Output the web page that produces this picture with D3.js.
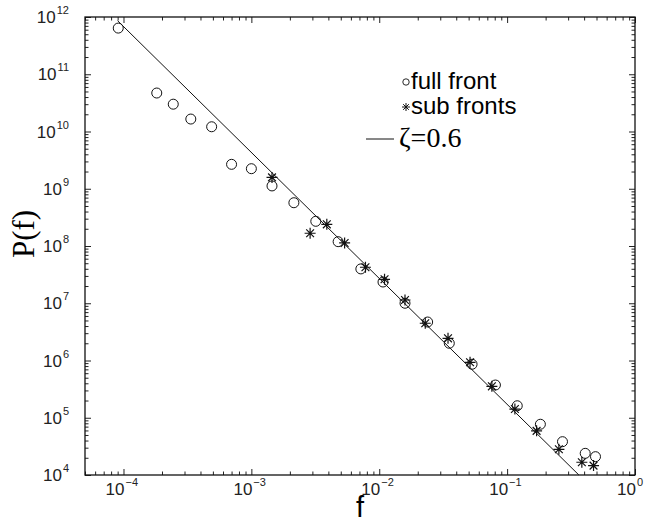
<!DOCTYPE html>
<html>
<head>
<meta charset="utf-8">
<script src="https://cdn.jsdelivr.net/npm/d3@7"></script>
<style>
  body { margin: 0; background: #fff; }
  svg { display: block; }
</style>
</head>
<body>
<div id="chart"></div>
<script>
// full front (circles)
const fullF = [9.1e-5, 1.82e-4, 2.45e-4, 3.36e-4, 4.89e-4, 7.0e-4, 1.0e-3, 1.45e-3, 2.15e-3, 3.19e-3,
  4.77e-3, 7.18e-3, 1.07e-2, 1.59e-2, 2.39e-2, 3.53e-2, 5.32e-2, 8.1e-2, 0.12, 0.182, 0.271, 0.408, 0.491];
const fullP = [6.4e11, 4.7e10, 3.0e10, 1.65e10, 1.21e10, 2.67e9, 2.24e9, 1.12e9, 5.7e8, 2.7e8,
  1.19e8, 3.98e7, 2.35e7, 1.0e7, 4.7e6, 2.0e6, 8.6e5, 3.73e5, 1.62e5, 7.7e4, 3.82e4, 2.39e4, 2.09e4];
// sub fronts (stars)
const subF = [1.45e-3, 2.88e-3, 3.89e-3, 5.36e-3, 7.8e-3, 1.1e-2, 1.59e-2, 2.29e-2, 3.45e-2, 5.13e-2,
  7.6e-2, 0.115, 0.17, 0.254, 0.384, 0.474];
const subP = [1.58e9, 1.67e8, 2.39e8, 1.13e8, 4.25e7, 2.62e7, 1.14e7, 4.47e6, 2.44e6, 9.3e5,
  3.54e5, 1.42e5, 5.9e4, 2.81e4, 1.67e4, 1.46e4];
// fitted line zeta = 0.6 (end points)
const lineF = [9e-5, 0.364];
const lineP = [8.6e11, 1e4];

const xExp = [-4, -3, -2, -1, 0];
const yExp = [4, 5, 6, 7, 8, 9, 10, 11, 12];

const W = 648, H = 524;
const m = { top: 17, right: 13, bottom: 49, left: 85 };

const svg = d3.select('#chart').append('svg').attr('width', W).attr('height', H);

const x = d3.scaleLog().domain([5e-5, 1]).range([m.left, W - m.right]);
const y = d3.scaleLog().domain([1e4, 1e12]).range([H - m.bottom, m.top]);

const xMajor = xExp.map(e => Math.pow(10, e));
const yMajor = yExp.map(e => Math.pow(10, e));
const minorOf = (lo, hi) => {
  const out = [];
  for (let e = Math.floor(Math.log10(lo)); e < Math.log10(hi); e++) {
    for (let k = 2; k <= 9; k++) {
      const v = k * Math.pow(10, e);
      if (v >= lo && v <= hi) out.push(v);
    }
  }
  return out;
};
const xMinor = minorOf(5e-5, 1);
const yMinor = minorOf(1e4, 1e12);

// axes: ticks pointing inward on all four sides
function drawAxis(axis, tr, vals, size) {
  const g = svg.append('g').attr('transform', tr)
    .call(axis.tickValues(vals).tickSize(size).tickFormat(''));
  g.select('.domain').remove();
  g.selectAll('line').attr('stroke', '#222').attr('stroke-width', 1);
}
const bottomY = H - m.bottom, rightX = W - m.right;
drawAxis(d3.axisBottom(x), `translate(0,${bottomY})`, xMajor, -6);
drawAxis(d3.axisBottom(x), `translate(0,${bottomY})`, xMinor, -3.5);
drawAxis(d3.axisTop(x), `translate(0,${m.top})`, xMajor, -6);
drawAxis(d3.axisTop(x), `translate(0,${m.top})`, xMinor, -3.5);
drawAxis(d3.axisLeft(y), `translate(${m.left},0)`, yMajor, -6);
drawAxis(d3.axisLeft(y), `translate(${m.left},0)`, yMinor, -3.5);
drawAxis(d3.axisRight(y), `translate(${rightX},0)`, yMajor, -6);
drawAxis(d3.axisRight(y), `translate(${rightX},0)`, yMinor, -3.5);

svg.append('rect')
  .attr('x', m.left).attr('y', m.top)
  .attr('width', rightX - m.left).attr('height', bottomY - m.top)
  .attr('fill', 'none').attr('stroke', '#111').attr('stroke-width', 1.3);

// tick labels as 10^n
const labFont = '"Liberation Sans", Arial, sans-serif';
const expText = e => (e < 0 ? '\u2212' + (-e) : String(e));

xExp.forEach(e => {
  const tx = x(Math.pow(10, e));
  svg.append('text')
    .attr('x', tx + 1).attr('y', bottomY + 20)
    .attr('text-anchor', 'end')
    .attr('font-family', labFont).attr('font-size', 17).attr('fill', '#222')
    .text('10');
  svg.append('text')
    .attr('x', tx + 2).attr('y', bottomY + 11)
    .attr('font-family', labFont).attr('font-size', 11).attr('fill', '#222')
    .text(expText(e));
});
yExp.forEach(e => {
  const t = svg.append('text')
    .attr('x', m.left - 16).attr('y', y(Math.pow(10, e)) + 6)
    .attr('text-anchor', 'end')
    .attr('font-family', labFont).attr('font-size', 17).attr('fill', '#222');
  t.append('tspan').text('10');
  t.append('tspan').attr('dx', 1).attr('dy', -9).attr('font-size', 11).text(expText(e));
});

// axis titles
svg.append('text')
  .attr('x', 360).attr('y', 517)
  .attr('text-anchor', 'middle')
  .attr('font-family', labFont).attr('font-size', 29)
  .text('f');
svg.append('text')
  .attr('transform', `translate(34,234)rotate(-90)`)
  .attr('text-anchor', 'middle')
  .attr('font-family', '"Liberation Serif", "Times New Roman", serif').attr('font-size', 31)
  .text('P(f)');

// fitted line
const line = d3.line().x(d => x(d[0])).y(d => y(d[1]));
svg.append('path')
  .datum(d3.zip(lineF, lineP))
  .attr('d', line)
  .attr('fill', 'none').attr('stroke', '#111').attr('stroke-width', 1);

// star marker path
const star = r => {
  let p = '';
  for (let i = 0; i < 4; i++) {
    const a = i * Math.PI / 4;
    const dx = r * Math.cos(a), dy = r * Math.sin(a);
    p += `M${-dx},${-dy}L${dx},${dy}`;
  }
  return p;
};

svg.append('g').selectAll('circle')
  .data(d3.zip(fullF, fullP))
  .join('circle')
  .attr('cx', d => x(d[0])).attr('cy', d => y(d[1]))
  .attr('r', 5)
  .attr('fill', 'none').attr('stroke', '#111').attr('stroke-width', 1);

svg.append('g').selectAll('path')
  .data(d3.zip(subF, subP))
  .join('path')
  .attr('transform', d => `translate(${x(d[0])},${y(d[1])})`)
  .attr('d', star(5.5))
  .attr('fill', 'none').attr('stroke', '#111').attr('stroke-width', 1.2);

// legend
const lg = svg.append('g');
lg.append('circle').attr('cx', 406).attr('cy', 82).attr('r', 3.2)
  .attr('fill', 'none').attr('stroke', '#111').attr('stroke-width', 0.9);
lg.append('text').attr('x', 411).attr('y', 89)
  .attr('font-family', labFont).attr('font-size', 24).text('full front');
lg.append('path').attr('transform', 'translate(406,107)').attr('d', star(4))
  .attr('fill', 'none').attr('stroke', '#111').attr('stroke-width', 1);
lg.append('text').attr('x', 411).attr('y', 114)
  .attr('font-family', labFont).attr('font-size', 24).text('sub fronts');
lg.append('line').attr('x1', 366).attr('x2', 394).attr('y1', 139).attr('y2', 139)
  .attr('stroke', '#111').attr('stroke-width', 1);
lg.append('text').attr('x', 399).attr('y', 147)
  .attr('font-family', '"Liberation Serif", "Times New Roman", serif').attr('font-size', 28)
  .text('\u03B6=0.6');
</script>
</body>
</html>
